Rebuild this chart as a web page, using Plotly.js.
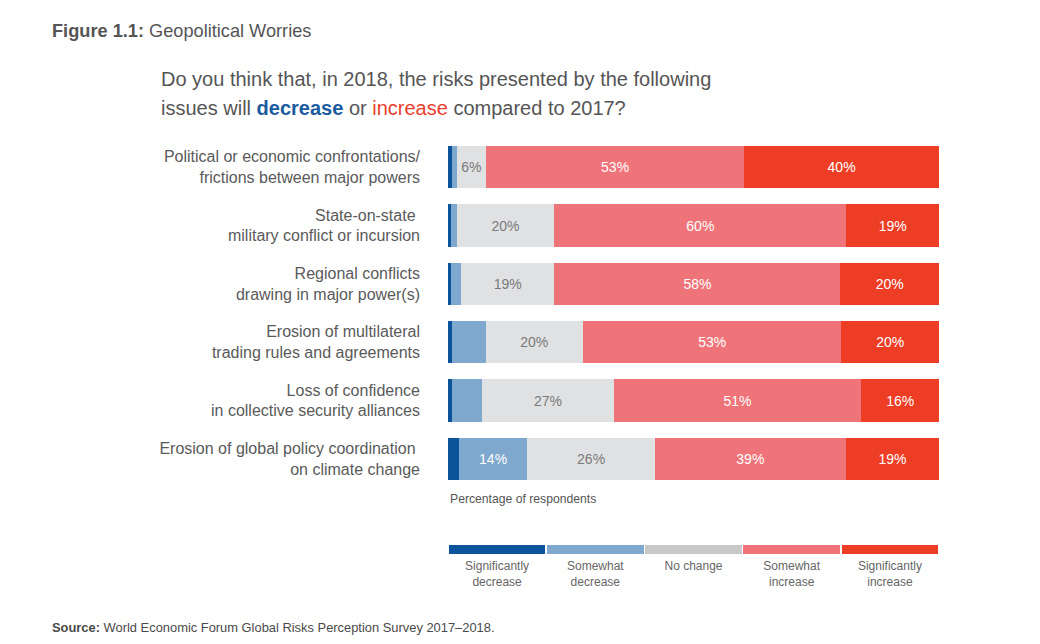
<!DOCTYPE html>
<html>
<head>
<meta charset="utf-8">
<script src="https://cdn.plot.ly/plotly-3.0.1.min.js"></script>
<style>html,body{margin:0;padding:0;background:#fff;}#chart{width:1040px;height:644px;}</style>
</head>
<body>
<div id="chart"></div>
<script>
// ---- data ----
const categories = [
  "Political or economic confrontations/<br>frictions between major powers",
  "State-on-state <br>military conflict or incursion",
  "Regional conflicts<br>drawing in major power(s)",
  "Erosion of multilateral<br>trading rules and agreements",
  "Loss of confidence<br>in collective security alliances",
  "Erosion of global policy coordination <br>on climate change"
];
const seriesNames = ["Significantly<br>decrease", "Somewhat<br>decrease", "No change", "Somewhat<br>increase", "Significantly<br>increase"];
const sigDecrease   = [0.8, 0.6, 0.6, 0.8, 0.8, 2.2];
const someDecrease  = [1.0, 1.2, 2.0, 6.9, 6.3, 14];
const noChange      = [6, 20, 19, 20, 27, 26];
const someIncrease  = [53, 60, 58, 53, 51, 39];
const sigIncrease   = [40, 19, 20, 20, 16, 19];
// which segments carry a printed label
const sigDecLabel   = [false, false, false, false, false, false];
const someDecLabel  = [false, false, false, false, false, true];
const noChangeLabel = [true, true, true, true, true, true];
const someIncLabel  = [true, true, true, true, true, true];
const sigIncLabel   = [true, true, true, true, true, true];
const legendShare   = [1, 1, 1, 1, 1];

// ---- styles ----
const barColors    = ["#0b539b", "#7ea8cd", "#e0e1e3", "#ef7479", "#ee3d25"];
const legendColors = ["#0b539b", "#7ea8cd", "#c8c8c8", "#ef7479", "#ee3d25"];
const textColors   = ["#ffffff", "#ffffff", "#7a7a7a", "#ffffff", "#ffffff"];
const FONT = "Liberation Sans, Arial, sans-serif";

const values = [sigDecrease, someDecrease, noChange, someIncrease, sigIncrease];
const labels = [sigDecLabel, someDecLabel, noChangeLabel, someIncLabel, sigIncLabel];

const traces = [];
values.forEach((vals, i) => {
  traces.push({
    type: "bar", orientation: "h",
    x: vals, y: categories,
    name: seriesNames[i],
    marker: {color: barColors[i], line: {width: 0}},
    text: vals.map((v, j) => labels[i][j] ? Math.round(v) + "%" : ""),
    textposition: "inside", insidetextanchor: "middle", constraintext: "none",
    textfont: {family: FONT, size: 14, color: textColors[i]},
    hoverinfo: "skip", showlegend: false
  });
});
legendShare.forEach((v, i) => {
  traces.push({
    type: "bar", orientation: "h",
    x: [v], y: ["key"], xaxis: "x2", yaxis: "y2",
    marker: {color: legendColors[i], line: {width: 1.5, color: "#ffffff"}},
    hoverinfo: "skip", showlegend: false
  });
});

const W = 1040, H = 644, ML = 448, MR = 101, MT = 138, MB = 44;
const PW = W - ML - MR, PH = H - MT - MB;
const px = x => (x - ML) / PW;
const py = y => (H - MB - y) / PH;

const layout = {
  width: W, height: H,
  margin: {l: ML, r: MR, t: MT, b: MB},
  paper_bgcolor: "#ffffff", plot_bgcolor: "#ffffff",
  barmode: "stack", barnorm: "percent", bargap: 0.27,
  showlegend: false,
  font: {family: FONT, color: "#555555"},
  xaxis: {range: [0, 100], visible: false, fixedrange: true},
  yaxis: {
    domain: [py(488), 1], type: "category", autorange: "reversed",
    showgrid: false, zeroline: false, showline: false, ticks: "",
    ticklabelstandoff: 27,
    tickfont: {family: FONT, size: 16, color: "#5a5a5a"}
  },
  xaxis2: {
    anchor: "y2", domain: [0, 1], range: [0, 100],
    tickmode: "array", tickvals: [10, 30, 50, 70, 90], ticktext: seriesNames,
    showgrid: false, zeroline: false, showline: false, ticks: "",
    tickfont: {family: FONT, size: 12, color: "#666666"}
  },
  yaxis2: {
    anchor: "x2", domain: [py(557), py(542)],
    showticklabels: false, showgrid: false, zeroline: false, fixedrange: true
  },
  annotations: [
    {xref: "paper", yref: "paper", x: px(50), y: py(31), xanchor: "left", yanchor: "middle", showarrow: false,
     text: "<b>Figure 1.1:</b> Geopolitical Worries", font: {family: FONT, size: 18.2, color: "#555555"}},
    {xref: "paper", yref: "paper", x: px(159), y: py(79), xanchor: "left", yanchor: "middle", showarrow: false,
     text: "Do you think that, in 2018, the risks presented by the following", font: {family: FONT, size: 20, color: "#555555"}},
    {xref: "paper", yref: "paper", x: px(159), y: py(108), xanchor: "left", yanchor: "middle", showarrow: false,
     text: "issues will <b><span style='color:#1b5b9f'>decrease</span></b> or <span style='color:#e9412d'>increase</span> compared to 2017?",
     font: {family: FONT, size: 20, color: "#555555"}},
    {xref: "paper", yref: "paper", x: 0, y: py(499), xanchor: "left", yanchor: "middle", showarrow: false,
     text: "Percentage of respondents", font: {family: FONT, size: 12.2, color: "#555555"}},
    {xref: "paper", yref: "paper", x: px(50), y: py(627), xanchor: "left", yanchor: "middle", showarrow: false,
     text: "<b>Source:</b> World Economic Forum Global Risks Perception Survey 2017–2018.", font: {family: FONT, size: 12.9, color: "#4a4a4a"}}
  ]
};

Plotly.newPlot("chart", traces, layout, {displayModeBar: false, staticPlot: true});
</script>
</body>
</html>
